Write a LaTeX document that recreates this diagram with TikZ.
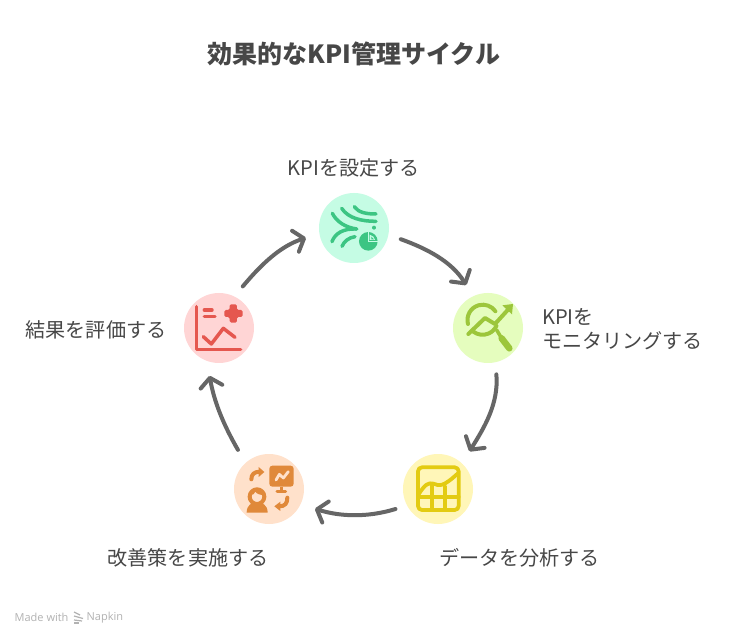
\documentclass[tikz,border=0pt]{standalone}
\usepackage{fontspec}
\usetikzlibrary{arrows.meta}
\setmainfont{Noto Sans CJK JP}
\newfontfamily\latinfoot{Open Sans}
\definecolor{txt}{HTML}{474747}
\definecolor{arr}{HTML}{666666}
\definecolor{gbg}{HTML}{C5FCE4}\definecolor{gfg}{HTML}{3CC583}
\definecolor{lbg}{HTML}{E5FDBE}\definecolor{lfg}{HTML}{9CC63B}
\definecolor{ybg}{HTML}{FFF6B8}\definecolor{yfg}{HTML}{E3CB12}
\definecolor{obg}{HTML}{FFE1CB}\definecolor{ofg}{HTML}{E0893A}
\definecolor{rbg}{HTML}{FFD5D5}\definecolor{rfg}{HTML}{E5574F}
\tikzset{
 stage/.style={circle,minimum size=70pt,inner sep=0pt},
 lbl/.style={text=txt,font=\fontsize{20.1}{25}\selectfont,inner sep=0pt},
 cyc/.style={draw=arr,line width=4pt,line cap=round,-{Straight Barb[length=9pt,width=22pt,line width=4pt,round]}},
 ic/.style={line width=3.5pt,line cap=round,line join=round},
}
\begin{document}
\begin{tikzpicture}[x=1pt,y=1pt]
\useasboundingbox (0,0) rectangle (750,-636);
\fill[white] (0,0) rectangle (750,-636);
\node[text=txt,font=\fontsize{25}{30}\bfseries\selectfont,inner sep=0pt] (title) at (354,-53.5) {効果的なKPI管理サイクル};
\node[stage,fill=gbg] (green) at (354,-228) {};
\node[stage,fill=lbg] (lime) at (488,-328) {};
\node[stage,fill=ybg] (yellow) at (438,-489) {};
\node[stage,fill=obg] (orange) at (269,-489) {};
\node[stage,fill=rbg] (red) at (219,-328) {};
\node[lbl] (l1) at (354,-167.5) {KPIを設定する};
\node[lbl,align=left,anchor=west] (l2) at (542,-329.5) {KPIを\\[-1pt]モニタリングする};
\node[lbl] (l3) at (519.5,-557.5) {データを分析する};
\node[lbl] (l4) at (188,-557.5) {改善策を実施する};
\node[lbl] (l5) at (96,-329.5) {結果を評価する};
\draw[cyc,shorten <=13pt,shorten >=14pt] (red.64) to[out=50,in=198] (green.189);
\draw[cyc,shorten <=13pt,shorten >=13pt] (green.-11) to[out=-20,in=122] (lime.115);
\draw[cyc,shorten <=12pt,shorten >=14pt] (lime.-78) to[out=-85,in=58] (yellow.47);
\draw[cyc,shorten <=12pt,shorten >=15pt] (yellow.208) to[out=197,in=-17] (orange.-26);
\draw[cyc,shorten <=15pt,shorten >=15pt] (orange.132) to[out=120,in=-80] (red.250);
% green icon
\begin{scope}[shift={(300,-180)},x=0.3333pt,y=-0.3333pt,draw=gfg,fill=gfg]
\draw[ic] (163,80) .. controls (175,98) and (200,102) .. (228,102);
\draw[ic] (125,85) .. controls (145,115) and (185,124) .. (228,124);
\draw[ic] (97,100) .. controls (110,125) and (135,142) .. (170,147);
\draw[ic] (96,185) .. controls (105,160) and (130,145) .. (170,147);
\draw[ic] (126,199) .. controls (132,185) and (145,173) .. (165,170);
\fill (222,143) circle[radius=6];
\fill (205,184) circle[radius=28];
\draw[gbg,line width=1.4pt] (205,156) -- (205,184) -- (233,184);
\fill[gbg] (209,164) -- (209,180) -- (225,180) .. controls (224,172) and (218,166) .. (209,164) -- cycle;
\fill (214,170) -- (214,178) -- (222,178) -- cycle;
\end{scope}
% lime icon
\begin{scope}[shift={(440,-280)},x=0.3333pt,y=-0.3333pt,draw=lfg,fill=lfg]
\draw[ic,line width=4pt] (84,132) arc[start angle=165,end angle=325,radius=46];
\draw[ic,line width=4pt] (100,155) arc[start angle=127,end angle=25,radius=46];
\draw[ic,line width=4pt] (85,162) -- (135,114) -- (165,132) -- (205,88);
\fill (219,72) -- (216,103) -- (187,76) -- cycle;
\draw[line width=6.5pt,line cap=round] (185,175) -- (208,205);
\draw[ic] (170,150) -- (185,175);
\end{scope}
% yellow icon
\begin{scope}[shift={(390,-445)},x=0.3333pt,y=-0.3333pt,draw=yfg,fill=yfg]
\draw[ic,line width=3.8pt,rounded corners=4pt] (84,67) rectangle (206,195);
\draw[ic,line width=3.8pt] (84,155) -- (206,155);
\draw[ic,line width=3.8pt] (125,122) -- (125,195);
\draw[ic,line width=3.8pt] (165,125) -- (165,195);
\draw[ic,line width=3.8pt] (86,148) .. controls (105,118) and (115,112) .. (130,116) .. controls (150,124) and (160,125) .. (204,85);
\end{scope}
% orange icon
\begin{scope}[shift={(220,-445)},x=0.3333pt,y=-0.3333pt,draw=ofg,fill=ofg]
\fill[rounded corners=3pt] (148,62) rectangle (221,125);
\draw[line width=2.6pt] (184,125) -- (184,138);
\draw[line width=3pt,line cap=round] (171,140) -- (197,140);
\draw[obg,line width=2.8pt,line cap=round,line join=round] (168,105) -- (178,88) -- (190,99) -- (205,80);
\draw[ic,line width=4pt] (94,103) .. controls (94,88) and (103,80) .. (120,80);
\fill (116,66) -- (133,81) -- (116,96) -- cycle;
\draw[ic,line width=4pt] (202,158) .. controls (202,175) and (195,184) .. (178,184);
\fill (181,170) -- (163,184) -- (181,198) -- cycle;
\draw[ic,line width=4pt] (111,155) circle[radius=22];
\fill (92,150) .. controls (95,125) and (128,125) .. (132,150) .. controls (120,150) and (110,147) .. (106,140) .. controls (104,147) and (98,150) .. (92,150) -- cycle;
\fill (80,203) .. controls (80,180) and (95,172) .. (111,172) .. controls (127,172) and (143,180) .. (143,203) -- cycle;
\end{scope}
% red icon
\begin{scope}[shift={(170,-285)},x=0.3333pt,y=-0.3333pt,draw=rfg,fill=rfg]
\draw[ic] (80,65) -- (80,193) -- (212,193);
\draw[ic] (103,75) -- (126,75);
\draw[ic] (103,95) -- (135,95);
\draw[ic] (100,155) -- (124,177) -- (160,130) -- (195,157);
\fill[rounded corners=1.5pt] (179,58) -- (201,58) -- (201,75) -- (218,75) -- (218,96) -- (201,96) -- (201,113) -- (179,113) -- (179,96) -- (163,96) -- (163,75) -- (179,75) -- cycle;
\end{scope}
% footer
\node[text=black!30,font=\latinfoot\fontsize{11}{13}\selectfont,inner sep=0pt,anchor=west] (made) at (14.5,-617.5) {Made with};
\node[text=black!30,font=\latinfoot\fontsize{11}{13}\selectfont,inner sep=0pt,anchor=west] (napkin) at (86.5,-617.5) {Napkin};
\begin{scope}[draw=black!30,line width=1.2pt]
\draw (74,-612) -- (80,-615);
\draw (74,-616) -- (83,-618.5);
\draw (74,-620) -- (82,-621);
\draw (74,-623) -- (79,-623);
\end{scope}
\end{tikzpicture}
\end{document}
